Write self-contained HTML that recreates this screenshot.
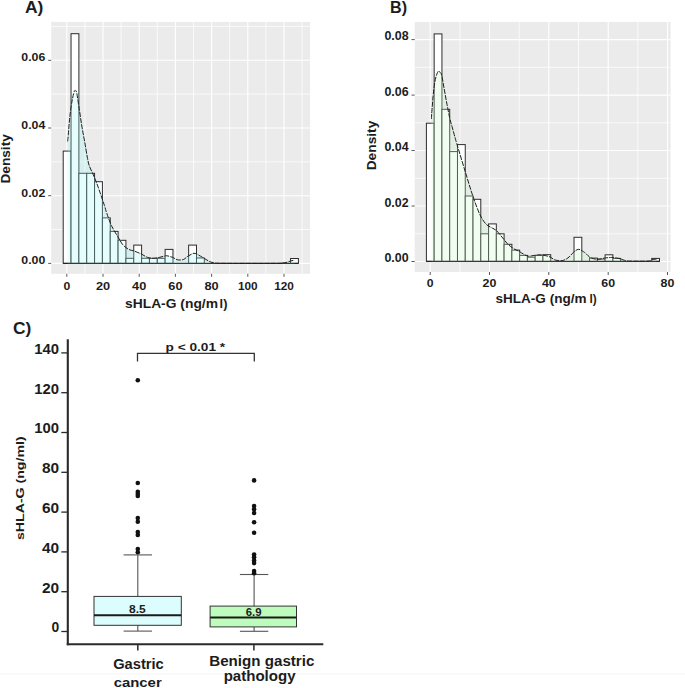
<!DOCTYPE html><html><head><meta charset="utf-8"><style>html,body{margin:0;padding:0;background:#fff;}svg{display:block;}text{font-family:"Liberation Sans",sans-serif;}</style></head><body>
<svg width="685" height="688" viewBox="0 0 685 688">
<rect width="685" height="688" fill="#fff"/>
<rect x="0" y="673.5" width="685" height="1" fill="#f5f5f5"/>
<rect x="51.2" y="21.9" width="258.90000000000003" height="251.9" fill="#ebebeb"/>
<line x1="51.2" x2="310.1" y1="229.5" y2="229.5" stroke="#ffffff" stroke-width="0.75"/>
<line x1="51.2" x2="310.1" y1="161.8" y2="161.8" stroke="#ffffff" stroke-width="0.75"/>
<line x1="51.2" x2="310.1" y1="94.1" y2="94.1" stroke="#ffffff" stroke-width="0.75"/>
<line x1="51.2" x2="310.1" y1="26.4" y2="26.4" stroke="#ffffff" stroke-width="0.75"/>
<line x1="84.9" x2="84.9" y1="21.9" y2="273.8" stroke="#ffffff" stroke-width="0.75"/>
<line x1="121.1" x2="121.1" y1="21.9" y2="273.8" stroke="#ffffff" stroke-width="0.75"/>
<line x1="157.3" x2="157.3" y1="21.9" y2="273.8" stroke="#ffffff" stroke-width="0.75"/>
<line x1="193.5" x2="193.5" y1="21.9" y2="273.8" stroke="#ffffff" stroke-width="0.75"/>
<line x1="229.7" x2="229.7" y1="21.9" y2="273.8" stroke="#ffffff" stroke-width="0.75"/>
<line x1="265.9" x2="265.9" y1="21.9" y2="273.8" stroke="#ffffff" stroke-width="0.75"/>
<line x1="302.1" x2="302.1" y1="21.9" y2="273.8" stroke="#ffffff" stroke-width="0.75"/>
<line x1="51.2" x2="310.1" y1="263.4" y2="263.4" stroke="#ffffff" stroke-width="1.1"/>
<line x1="51.2" x2="310.1" y1="195.7" y2="195.7" stroke="#ffffff" stroke-width="1.1"/>
<line x1="51.2" x2="310.1" y1="128.0" y2="128.0" stroke="#ffffff" stroke-width="1.1"/>
<line x1="51.2" x2="310.1" y1="60.3" y2="60.3" stroke="#ffffff" stroke-width="1.1"/>
<line x1="66.8" x2="66.8" y1="21.9" y2="273.8" stroke="#ffffff" stroke-width="1.1"/>
<line x1="103.0" x2="103.0" y1="21.9" y2="273.8" stroke="#ffffff" stroke-width="1.1"/>
<line x1="139.2" x2="139.2" y1="21.9" y2="273.8" stroke="#ffffff" stroke-width="1.1"/>
<line x1="175.4" x2="175.4" y1="21.9" y2="273.8" stroke="#ffffff" stroke-width="1.1"/>
<line x1="211.6" x2="211.6" y1="21.9" y2="273.8" stroke="#ffffff" stroke-width="1.1"/>
<line x1="247.8" x2="247.8" y1="21.9" y2="273.8" stroke="#ffffff" stroke-width="1.1"/>
<line x1="284.0" x2="284.0" y1="21.9" y2="273.8" stroke="#ffffff" stroke-width="1.1"/>
<rect x="63.20" y="151.10" width="7.84" height="112.30" fill="#ffffff" stroke="#2c2c2c" stroke-width="1.0"/>
<rect x="71.04" y="33.70" width="7.84" height="229.70" fill="#ffffff" stroke="#2c2c2c" stroke-width="1.0"/>
<rect x="78.88" y="173.30" width="7.84" height="90.10" fill="#ffffff" stroke="#2c2c2c" stroke-width="1.0"/>
<rect x="86.72" y="173.30" width="7.84" height="90.10" fill="#ffffff" stroke="#2c2c2c" stroke-width="1.0"/>
<rect x="94.56" y="181.70" width="7.84" height="81.70" fill="#ffffff" stroke="#2c2c2c" stroke-width="1.0"/>
<rect x="102.40" y="217.90" width="7.84" height="45.50" fill="#ffffff" stroke="#2c2c2c" stroke-width="1.0"/>
<rect x="110.24" y="231.40" width="7.84" height="32.00" fill="#ffffff" stroke="#2c2c2c" stroke-width="1.0"/>
<rect x="118.08" y="240.30" width="7.84" height="23.10" fill="#ffffff" stroke="#2c2c2c" stroke-width="1.0"/>
<rect x="125.92" y="258.30" width="7.84" height="5.10" fill="#ffffff" stroke="#2c2c2c" stroke-width="1.0"/>
<rect x="133.76" y="245.10" width="7.84" height="18.30" fill="#ffffff" stroke="#2c2c2c" stroke-width="1.0"/>
<rect x="141.60" y="258.30" width="7.84" height="5.10" fill="#ffffff" stroke="#2c2c2c" stroke-width="1.0"/>
<rect x="149.44" y="258.30" width="7.84" height="5.10" fill="#ffffff" stroke="#2c2c2c" stroke-width="1.0"/>
<rect x="157.28" y="258.30" width="7.84" height="5.10" fill="#ffffff" stroke="#2c2c2c" stroke-width="1.0"/>
<rect x="165.12" y="249.40" width="7.84" height="14.00" fill="#ffffff" stroke="#2c2c2c" stroke-width="1.0"/>
<rect x="172.96" y="263.40" width="7.84" height="0.00" fill="#ffffff" stroke="#2c2c2c" stroke-width="1.0"/>
<rect x="180.80" y="263.40" width="7.84" height="0.00" fill="#ffffff" stroke="#2c2c2c" stroke-width="1.0"/>
<rect x="188.64" y="245.10" width="7.84" height="18.30" fill="#ffffff" stroke="#2c2c2c" stroke-width="1.0"/>
<rect x="196.48" y="258.00" width="7.84" height="5.40" fill="#ffffff" stroke="#2c2c2c" stroke-width="1.0"/>
<rect x="204.32" y="263.40" width="7.84" height="0.00" fill="#ffffff" stroke="#2c2c2c" stroke-width="1.0"/>
<rect x="212.16" y="263.40" width="7.84" height="0.00" fill="#ffffff" stroke="#2c2c2c" stroke-width="1.0"/>
<rect x="220.00" y="263.40" width="7.84" height="0.00" fill="#ffffff" stroke="#2c2c2c" stroke-width="1.0"/>
<rect x="227.84" y="263.40" width="7.84" height="0.00" fill="#ffffff" stroke="#2c2c2c" stroke-width="1.0"/>
<rect x="235.68" y="263.40" width="7.84" height="0.00" fill="#ffffff" stroke="#2c2c2c" stroke-width="1.0"/>
<rect x="243.52" y="263.40" width="7.84" height="0.00" fill="#ffffff" stroke="#2c2c2c" stroke-width="1.0"/>
<rect x="251.36" y="263.40" width="7.84" height="0.00" fill="#ffffff" stroke="#2c2c2c" stroke-width="1.0"/>
<rect x="259.20" y="263.40" width="7.84" height="0.00" fill="#ffffff" stroke="#2c2c2c" stroke-width="1.0"/>
<rect x="267.04" y="263.40" width="7.84" height="0.00" fill="#ffffff" stroke="#2c2c2c" stroke-width="1.0"/>
<rect x="274.88" y="263.40" width="7.84" height="0.00" fill="#ffffff" stroke="#2c2c2c" stroke-width="1.0"/>
<rect x="282.72" y="263.40" width="7.84" height="0.00" fill="#ffffff" stroke="#2c2c2c" stroke-width="1.0"/>
<rect x="290.56" y="258.50" width="7.84" height="4.90" fill="#ffffff" stroke="#2c2c2c" stroke-width="1.0"/>
<line x1="63.20" x2="298.40" y1="263.40" y2="263.40" stroke="#222" stroke-width="1.4"/>
<path d="M67.6,141.4 C67.7,140.3 68.0,138.6 68.3,134.9 C68.6,131.2 69.0,124.4 69.6,119.2 C70.1,114.0 70.9,107.8 71.6,103.5 C72.3,99.2 73.1,95.7 73.6,93.5 C74.1,91.3 74.4,90.9 74.8,90.5 C75.2,90.1 75.6,90.8 75.9,91.2 C76.2,91.6 76.2,89.9 76.8,93.1 C77.4,96.2 78.5,104.4 79.4,110.1 C80.3,115.8 81.1,121.9 82.0,127.1 C82.9,132.3 83.7,136.4 84.6,141.4 C85.5,146.4 86.5,153.1 87.3,157.1 C88.1,161.1 88.1,162.3 89.2,165.5 C90.3,168.7 92.5,172.9 93.9,176.2 C95.3,179.4 96.2,181.9 97.4,185.0 C98.6,188.1 99.7,191.6 100.9,195.0 C102.1,198.4 103.4,202.4 104.4,205.4 C105.4,208.4 105.5,209.7 106.7,213.0 C107.9,216.3 109.6,221.6 111.4,225.5 C113.2,229.4 115.9,233.5 117.8,236.7 C119.7,239.9 121.2,242.8 123.0,244.9 C124.8,247.0 127.1,248.5 128.9,249.5 C130.8,250.5 132.0,250.2 134.1,251.0 C136.2,251.8 139.4,253.1 141.7,254.2 C143.9,255.3 145.6,256.7 147.6,257.4 C149.6,258.1 151.5,258.3 153.4,258.3 C155.3,258.3 157.3,257.8 159.2,257.4 C161.1,257.0 163.7,256.3 165.0,256.0 C166.3,255.7 165.7,255.6 167.0,255.8 C168.3,256.0 170.8,256.7 172.6,257.4 C174.3,258.1 175.7,259.4 177.5,259.8 C179.3,260.2 181.7,260.1 183.4,259.5 C185.2,258.9 186.2,257.2 188.0,256.2 C189.8,255.2 192.2,253.5 193.9,253.3 C195.7,253.1 196.8,254.1 198.5,255.0 C200.2,255.9 202.5,257.4 204.4,258.5 C206.3,259.6 208.4,261.1 210.2,261.8 C211.9,262.5 212.9,262.6 214.9,262.9 C216.9,263.1 211.8,263.2 222.0,263.3 C232.2,263.4 266.0,263.4 276.0,263.3 C286.0,263.2 280.2,263.2 282.0,263.0 C283.8,262.8 285.6,262.6 287.0,262.3 C288.4,262.0 289.2,261.4 290.5,261.0 C291.8,260.6 293.8,260.3 294.5,260.2 L294.5,263.4 L67.6,263.4 Z" fill="#9bf7f7" fill-opacity="0.25" stroke="none"/>
<path d="M67.6,141.4 C67.7,140.3 68.0,138.6 68.3,134.9 C68.6,131.2 69.0,124.4 69.6,119.2 C70.1,114.0 70.9,107.8 71.6,103.5 C72.3,99.2 73.1,95.7 73.6,93.5 C74.1,91.3 74.4,90.9 74.8,90.5 C75.2,90.1 75.6,90.8 75.9,91.2 C76.2,91.6 76.2,89.9 76.8,93.1 C77.4,96.2 78.5,104.4 79.4,110.1 C80.3,115.8 81.1,121.9 82.0,127.1 C82.9,132.3 83.7,136.4 84.6,141.4 C85.5,146.4 86.5,153.1 87.3,157.1 C88.1,161.1 88.1,162.3 89.2,165.5 C90.3,168.7 92.5,172.9 93.9,176.2 C95.3,179.4 96.2,181.9 97.4,185.0 C98.6,188.1 99.7,191.6 100.9,195.0 C102.1,198.4 103.4,202.4 104.4,205.4 C105.4,208.4 105.5,209.7 106.7,213.0 C107.9,216.3 109.6,221.6 111.4,225.5 C113.2,229.4 115.9,233.5 117.8,236.7 C119.7,239.9 121.2,242.8 123.0,244.9 C124.8,247.0 127.1,248.5 128.9,249.5 C130.8,250.5 132.0,250.2 134.1,251.0 C136.2,251.8 139.4,253.1 141.7,254.2 C143.9,255.3 145.6,256.7 147.6,257.4 C149.6,258.1 151.5,258.3 153.4,258.3 C155.3,258.3 157.3,257.8 159.2,257.4 C161.1,257.0 163.7,256.3 165.0,256.0 C166.3,255.7 165.7,255.6 167.0,255.8 C168.3,256.0 170.8,256.7 172.6,257.4 C174.3,258.1 175.7,259.4 177.5,259.8 C179.3,260.2 181.7,260.1 183.4,259.5 C185.2,258.9 186.2,257.2 188.0,256.2 C189.8,255.2 192.2,253.5 193.9,253.3 C195.7,253.1 196.8,254.1 198.5,255.0 C200.2,255.9 202.5,257.4 204.4,258.5 C206.3,259.6 208.4,261.1 210.2,261.8 C211.9,262.5 212.9,262.6 214.9,262.9 C216.9,263.1 211.8,263.2 222.0,263.3 C232.2,263.4 266.0,263.4 276.0,263.3 C286.0,263.2 280.2,263.2 282.0,263.0 C283.8,262.8 285.6,262.6 287.0,262.3 C288.4,262.0 289.2,261.4 290.5,261.0 C291.8,260.6 293.8,260.3 294.5,260.2" fill="none" stroke="#1e1e1e" stroke-width="1.0" stroke-dasharray="5 1.2"/>
<line x1="48.2" x2="51.2" y1="263.4" y2="263.4" stroke="#444" stroke-width="0.9"/>
<line x1="48.2" x2="51.2" y1="195.7" y2="195.7" stroke="#444" stroke-width="0.9"/>
<line x1="48.2" x2="51.2" y1="128.0" y2="128.0" stroke="#444" stroke-width="0.9"/>
<line x1="48.2" x2="51.2" y1="60.3" y2="60.3" stroke="#444" stroke-width="0.9"/>
<line x1="66.8" x2="66.8" y1="273.8" y2="276.8" stroke="#444" stroke-width="0.9"/>
<line x1="103.0" x2="103.0" y1="273.8" y2="276.8" stroke="#444" stroke-width="0.9"/>
<line x1="139.2" x2="139.2" y1="273.8" y2="276.8" stroke="#444" stroke-width="0.9"/>
<line x1="175.4" x2="175.4" y1="273.8" y2="276.8" stroke="#444" stroke-width="0.9"/>
<line x1="211.6" x2="211.6" y1="273.8" y2="276.8" stroke="#444" stroke-width="0.9"/>
<line x1="247.8" x2="247.8" y1="273.8" y2="276.8" stroke="#444" stroke-width="0.9"/>
<line x1="284.0" x2="284.0" y1="273.8" y2="276.8" stroke="#444" stroke-width="0.9"/>
<text x="45.3" y="264.2" font-size="11.63" font-weight="bold" text-anchor="end" fill="#1c1c1c" textLength="24.0" lengthAdjust="spacingAndGlyphs">0.00</text>
<text x="45.3" y="196.5" font-size="11.63" font-weight="bold" text-anchor="end" fill="#1c1c1c" textLength="24.0" lengthAdjust="spacingAndGlyphs">0.02</text>
<text x="45.3" y="128.8" font-size="11.63" font-weight="bold" text-anchor="end" fill="#1c1c1c" textLength="24.0" lengthAdjust="spacingAndGlyphs">0.04</text>
<text x="45.3" y="61.1" font-size="11.63" font-weight="bold" text-anchor="end" fill="#1c1c1c" textLength="24.0" lengthAdjust="spacingAndGlyphs">0.06</text>
<text x="66.8" y="289.9" font-size="11.63" font-weight="bold" text-anchor="middle" fill="#1c1c1c" textLength="6.8" lengthAdjust="spacingAndGlyphs">0</text>
<text x="103.0" y="289.9" font-size="11.63" font-weight="bold" text-anchor="middle" fill="#1c1c1c" textLength="14.2" lengthAdjust="spacingAndGlyphs">20</text>
<text x="139.2" y="289.9" font-size="11.63" font-weight="bold" text-anchor="middle" fill="#1c1c1c" textLength="14.2" lengthAdjust="spacingAndGlyphs">40</text>
<text x="175.4" y="289.9" font-size="11.63" font-weight="bold" text-anchor="middle" fill="#1c1c1c" textLength="14.2" lengthAdjust="spacingAndGlyphs">60</text>
<text x="211.6" y="289.9" font-size="11.63" font-weight="bold" text-anchor="middle" fill="#1c1c1c" textLength="14.2" lengthAdjust="spacingAndGlyphs">80</text>
<text x="247.8" y="289.9" font-size="11.63" font-weight="bold" text-anchor="middle" fill="#1c1c1c" textLength="19.7" lengthAdjust="spacingAndGlyphs">100</text>
<text x="284.0" y="289.9" font-size="11.63" font-weight="bold" text-anchor="middle" fill="#1c1c1c" textLength="19.7" lengthAdjust="spacingAndGlyphs">120</text>
<text x="125.0" y="308.0" font-size="12.35" font-weight="bold" text-anchor="start" fill="#1c1c1c" textLength="93.0" lengthAdjust="spacingAndGlyphs">sHLA-G (ng/m</text>
<text x="219.6" y="308.0" font-size="12.35" font-weight="bold" text-anchor="start" fill="#1c1c1c" textLength="7.8" lengthAdjust="spacingAndGlyphs">l)</text>
<text x="9.7" y="158.9" font-size="11.92" font-weight="bold" text-anchor="middle" fill="#1c1c1c" textLength="49.4" lengthAdjust="spacingAndGlyphs" transform="rotate(-90 9.7 158.9)">Density</text>
<text x="25.0" y="12.9" font-size="16.42" font-weight="bold" text-anchor="start" fill="#1c1c1c" textLength="18.4" lengthAdjust="spacingAndGlyphs">A)</text>
<rect x="414.7" y="21.9" width="255.90000000000003" height="250.1" fill="#ebebeb"/>
<line x1="414.7" x2="670.6" y1="233.8" y2="233.8" stroke="#ffffff" stroke-width="0.75"/>
<line x1="414.7" x2="670.6" y1="178.3" y2="178.3" stroke="#ffffff" stroke-width="0.75"/>
<line x1="414.7" x2="670.6" y1="122.8" y2="122.8" stroke="#ffffff" stroke-width="0.75"/>
<line x1="414.7" x2="670.6" y1="67.3" y2="67.3" stroke="#ffffff" stroke-width="0.75"/>
<line x1="459.9" x2="459.9" y1="21.9" y2="272.0" stroke="#ffffff" stroke-width="0.75"/>
<line x1="519.2" x2="519.2" y1="21.9" y2="272.0" stroke="#ffffff" stroke-width="0.75"/>
<line x1="578.5" x2="578.5" y1="21.9" y2="272.0" stroke="#ffffff" stroke-width="0.75"/>
<line x1="637.8" x2="637.8" y1="21.9" y2="272.0" stroke="#ffffff" stroke-width="0.75"/>
<line x1="414.7" x2="670.6" y1="261.5" y2="261.5" stroke="#ffffff" stroke-width="1.1"/>
<line x1="414.7" x2="670.6" y1="206.0" y2="206.0" stroke="#ffffff" stroke-width="1.1"/>
<line x1="414.7" x2="670.6" y1="150.5" y2="150.5" stroke="#ffffff" stroke-width="1.1"/>
<line x1="414.7" x2="670.6" y1="95.1" y2="95.1" stroke="#ffffff" stroke-width="1.1"/>
<line x1="414.7" x2="670.6" y1="39.6" y2="39.6" stroke="#ffffff" stroke-width="1.1"/>
<line x1="430.2" x2="430.2" y1="21.9" y2="272.0" stroke="#ffffff" stroke-width="1.1"/>
<line x1="489.5" x2="489.5" y1="21.9" y2="272.0" stroke="#ffffff" stroke-width="1.1"/>
<line x1="548.8" x2="548.8" y1="21.9" y2="272.0" stroke="#ffffff" stroke-width="1.1"/>
<line x1="608.2" x2="608.2" y1="21.9" y2="272.0" stroke="#ffffff" stroke-width="1.1"/>
<line x1="667.5" x2="667.5" y1="21.9" y2="272.0" stroke="#ffffff" stroke-width="1.1"/>
<rect x="426.40" y="123.20" width="7.77" height="138.20" fill="#ffffff" stroke="#2c2c2c" stroke-width="1.0"/>
<rect x="434.17" y="33.90" width="7.77" height="227.50" fill="#ffffff" stroke="#2c2c2c" stroke-width="1.0"/>
<rect x="441.94" y="109.30" width="7.77" height="152.10" fill="#ffffff" stroke="#2c2c2c" stroke-width="1.0"/>
<rect x="449.71" y="151.60" width="7.77" height="109.80" fill="#ffffff" stroke="#2c2c2c" stroke-width="1.0"/>
<rect x="457.48" y="144.60" width="7.77" height="116.80" fill="#ffffff" stroke="#2c2c2c" stroke-width="1.0"/>
<rect x="465.25" y="196.00" width="7.77" height="65.40" fill="#ffffff" stroke="#2c2c2c" stroke-width="1.0"/>
<rect x="473.02" y="199.30" width="7.77" height="62.10" fill="#ffffff" stroke="#2c2c2c" stroke-width="1.0"/>
<rect x="480.79" y="233.80" width="7.77" height="27.60" fill="#ffffff" stroke="#2c2c2c" stroke-width="1.0"/>
<rect x="488.56" y="223.90" width="7.77" height="37.50" fill="#ffffff" stroke="#2c2c2c" stroke-width="1.0"/>
<rect x="496.33" y="233.80" width="7.77" height="27.60" fill="#ffffff" stroke="#2c2c2c" stroke-width="1.0"/>
<rect x="504.10" y="244.30" width="7.77" height="17.10" fill="#ffffff" stroke="#2c2c2c" stroke-width="1.0"/>
<rect x="511.87" y="250.10" width="7.77" height="11.30" fill="#ffffff" stroke="#2c2c2c" stroke-width="1.0"/>
<rect x="519.64" y="255.40" width="7.77" height="6.00" fill="#ffffff" stroke="#2c2c2c" stroke-width="1.0"/>
<rect x="527.41" y="257.20" width="7.77" height="4.20" fill="#ffffff" stroke="#2c2c2c" stroke-width="1.0"/>
<rect x="535.18" y="255.40" width="7.77" height="6.00" fill="#ffffff" stroke="#2c2c2c" stroke-width="1.0"/>
<rect x="542.95" y="254.70" width="7.77" height="6.70" fill="#ffffff" stroke="#2c2c2c" stroke-width="1.0"/>
<rect x="550.72" y="261.40" width="7.77" height="0.00" fill="#ffffff" stroke="#2c2c2c" stroke-width="1.0"/>
<rect x="558.49" y="261.40" width="7.77" height="0.00" fill="#ffffff" stroke="#2c2c2c" stroke-width="1.0"/>
<rect x="566.26" y="261.40" width="7.77" height="0.00" fill="#ffffff" stroke="#2c2c2c" stroke-width="1.0"/>
<rect x="574.03" y="237.30" width="7.77" height="24.10" fill="#ffffff" stroke="#2c2c2c" stroke-width="1.0"/>
<rect x="581.80" y="261.40" width="7.77" height="0.00" fill="#ffffff" stroke="#2c2c2c" stroke-width="1.0"/>
<rect x="589.57" y="258.10" width="7.77" height="3.30" fill="#ffffff" stroke="#2c2c2c" stroke-width="1.0"/>
<rect x="597.34" y="259.10" width="7.77" height="2.30" fill="#ffffff" stroke="#2c2c2c" stroke-width="1.0"/>
<rect x="605.11" y="254.80" width="7.77" height="6.60" fill="#ffffff" stroke="#2c2c2c" stroke-width="1.0"/>
<rect x="612.88" y="258.40" width="7.77" height="3.00" fill="#ffffff" stroke="#2c2c2c" stroke-width="1.0"/>
<rect x="620.65" y="261.40" width="7.77" height="0.00" fill="#ffffff" stroke="#2c2c2c" stroke-width="1.0"/>
<rect x="628.42" y="261.40" width="7.77" height="0.00" fill="#ffffff" stroke="#2c2c2c" stroke-width="1.0"/>
<rect x="636.19" y="261.40" width="7.77" height="0.00" fill="#ffffff" stroke="#2c2c2c" stroke-width="1.0"/>
<rect x="643.96" y="261.40" width="7.77" height="0.00" fill="#ffffff" stroke="#2c2c2c" stroke-width="1.0"/>
<rect x="651.73" y="258.40" width="7.77" height="3.00" fill="#ffffff" stroke="#2c2c2c" stroke-width="1.0"/>
<line x1="426.40" x2="659.50" y1="261.40" y2="261.40" stroke="#222" stroke-width="1.4"/>
<path d="M431.4,119.0 C431.4,118.3 431.5,116.5 431.6,115.0 C431.7,113.5 431.8,111.9 432.0,109.7 C432.2,107.5 432.4,104.6 432.6,102.0 C432.8,99.4 433.0,96.6 433.3,94.0 C433.6,91.4 433.9,88.9 434.2,86.5 C434.5,84.1 434.9,81.6 435.3,79.6 C435.7,77.5 436.3,75.6 436.8,74.2 C437.3,72.8 437.9,71.4 438.5,71.1 C439.1,70.8 439.6,71.7 440.2,72.5 C440.8,73.3 441.1,72.8 441.8,75.7 C442.5,78.6 443.5,85.3 444.4,90.1 C445.3,94.9 446.1,99.8 447.0,104.4 C447.9,109.0 448.8,113.8 449.6,117.5 C450.4,121.2 451.2,123.7 452.0,126.5 C452.8,129.3 453.4,131.6 454.2,134.5 C455.0,137.4 455.0,137.6 456.8,143.7 C458.6,149.8 462.4,162.3 465.0,170.9 C467.6,179.5 470.6,189.3 472.6,195.4 C474.6,201.5 475.6,203.9 477.0,207.5 C478.4,211.1 479.5,214.2 481.1,217.0 C482.7,219.8 484.5,222.7 486.4,224.5 C488.2,226.3 490.4,226.9 492.2,228.0 C493.9,229.1 495.1,229.3 496.9,231.0 C498.6,232.7 500.9,235.8 502.7,237.9 C504.4,240.0 505.6,241.9 507.4,243.7 C509.1,245.4 511.3,247.1 513.2,248.4 C515.1,249.7 517.2,250.3 519.0,251.3 C520.8,252.3 522.1,253.4 523.7,254.2 C525.3,255.0 526.8,256.0 528.4,256.2 C530.0,256.4 531.2,255.8 533.1,255.6 C535.0,255.4 537.7,254.7 540.0,254.8 C542.3,254.9 545.3,255.6 547.1,256.0 C548.9,256.4 549.6,256.8 551.0,257.5 C552.4,258.2 553.3,259.5 555.2,260.0 C557.1,260.5 560.1,261.0 562.2,260.6 C564.3,260.2 566.0,259.3 568.0,257.9 C570.0,256.5 572.1,253.4 573.9,252.0 C575.7,250.6 577.0,249.3 578.6,249.3 C580.2,249.3 582.3,251.0 583.6,251.8 C584.9,252.6 585.5,253.2 586.5,254.1 C587.5,255.0 588.7,256.4 589.5,257.1 C590.3,257.8 590.2,257.7 591.4,258.1 C592.6,258.5 595.1,259.3 596.7,259.4 C598.4,259.5 600.0,259.0 601.3,258.8 C602.6,258.6 603.0,258.3 604.3,258.1 C605.6,257.9 608.0,257.7 609.2,257.6 C610.5,257.5 610.9,257.4 611.8,257.4 C612.7,257.4 613.4,257.6 614.5,257.8 C615.6,258.0 617.0,258.0 618.7,258.4 C620.4,258.8 622.8,259.9 624.5,260.3 C626.2,260.8 625.3,261.0 629.2,261.1 C633.1,261.2 644.2,261.3 648.0,261.1 C651.8,260.9 650.6,260.1 652.0,259.8 C653.4,259.5 655.8,259.3 656.5,259.2 L656.5,261.4 L431.4,261.4 Z" fill="#c3f7c3" fill-opacity="0.25" stroke="none"/>
<path d="M431.4,119.0 C431.4,118.3 431.5,116.5 431.6,115.0 C431.7,113.5 431.8,111.9 432.0,109.7 C432.2,107.5 432.4,104.6 432.6,102.0 C432.8,99.4 433.0,96.6 433.3,94.0 C433.6,91.4 433.9,88.9 434.2,86.5 C434.5,84.1 434.9,81.6 435.3,79.6 C435.7,77.5 436.3,75.6 436.8,74.2 C437.3,72.8 437.9,71.4 438.5,71.1 C439.1,70.8 439.6,71.7 440.2,72.5 C440.8,73.3 441.1,72.8 441.8,75.7 C442.5,78.6 443.5,85.3 444.4,90.1 C445.3,94.9 446.1,99.8 447.0,104.4 C447.9,109.0 448.8,113.8 449.6,117.5 C450.4,121.2 451.2,123.7 452.0,126.5 C452.8,129.3 453.4,131.6 454.2,134.5 C455.0,137.4 455.0,137.6 456.8,143.7 C458.6,149.8 462.4,162.3 465.0,170.9 C467.6,179.5 470.6,189.3 472.6,195.4 C474.6,201.5 475.6,203.9 477.0,207.5 C478.4,211.1 479.5,214.2 481.1,217.0 C482.7,219.8 484.5,222.7 486.4,224.5 C488.2,226.3 490.4,226.9 492.2,228.0 C493.9,229.1 495.1,229.3 496.9,231.0 C498.6,232.7 500.9,235.8 502.7,237.9 C504.4,240.0 505.6,241.9 507.4,243.7 C509.1,245.4 511.3,247.1 513.2,248.4 C515.1,249.7 517.2,250.3 519.0,251.3 C520.8,252.3 522.1,253.4 523.7,254.2 C525.3,255.0 526.8,256.0 528.4,256.2 C530.0,256.4 531.2,255.8 533.1,255.6 C535.0,255.4 537.7,254.7 540.0,254.8 C542.3,254.9 545.3,255.6 547.1,256.0 C548.9,256.4 549.6,256.8 551.0,257.5 C552.4,258.2 553.3,259.5 555.2,260.0 C557.1,260.5 560.1,261.0 562.2,260.6 C564.3,260.2 566.0,259.3 568.0,257.9 C570.0,256.5 572.1,253.4 573.9,252.0 C575.7,250.6 577.0,249.3 578.6,249.3 C580.2,249.3 582.3,251.0 583.6,251.8 C584.9,252.6 585.5,253.2 586.5,254.1 C587.5,255.0 588.7,256.4 589.5,257.1 C590.3,257.8 590.2,257.7 591.4,258.1 C592.6,258.5 595.1,259.3 596.7,259.4 C598.4,259.5 600.0,259.0 601.3,258.8 C602.6,258.6 603.0,258.3 604.3,258.1 C605.6,257.9 608.0,257.7 609.2,257.6 C610.5,257.5 610.9,257.4 611.8,257.4 C612.7,257.4 613.4,257.6 614.5,257.8 C615.6,258.0 617.0,258.0 618.7,258.4 C620.4,258.8 622.8,259.9 624.5,260.3 C626.2,260.8 625.3,261.0 629.2,261.1 C633.1,261.2 644.2,261.3 648.0,261.1 C651.8,260.9 650.6,260.1 652.0,259.8 C653.4,259.5 655.8,259.3 656.5,259.2" fill="none" stroke="#1e1e1e" stroke-width="1.0" stroke-dasharray="5 1.2"/>
<line x1="411.5" x2="414.7" y1="261.5" y2="261.5" stroke="#444" stroke-width="0.9"/>
<line x1="411.5" x2="414.7" y1="206.0" y2="206.0" stroke="#444" stroke-width="0.9"/>
<line x1="411.5" x2="414.7" y1="150.5" y2="150.5" stroke="#444" stroke-width="0.9"/>
<line x1="411.5" x2="414.7" y1="95.1" y2="95.1" stroke="#444" stroke-width="0.9"/>
<line x1="411.5" x2="414.7" y1="39.6" y2="39.6" stroke="#444" stroke-width="0.9"/>
<line x1="430.2" x2="430.2" y1="272.0" y2="275.0" stroke="#444" stroke-width="0.9"/>
<line x1="489.5" x2="489.5" y1="272.0" y2="275.0" stroke="#444" stroke-width="0.9"/>
<line x1="548.8" x2="548.8" y1="272.0" y2="275.0" stroke="#444" stroke-width="0.9"/>
<line x1="608.2" x2="608.2" y1="272.0" y2="275.0" stroke="#444" stroke-width="0.9"/>
<line x1="667.5" x2="667.5" y1="272.0" y2="275.0" stroke="#444" stroke-width="0.9"/>
<text x="408.6" y="262.0" font-size="11.92" font-weight="bold" text-anchor="end" fill="#1c1c1c" textLength="24.2" lengthAdjust="spacingAndGlyphs">0.00</text>
<text x="408.6" y="206.5" font-size="11.92" font-weight="bold" text-anchor="end" fill="#1c1c1c" textLength="24.2" lengthAdjust="spacingAndGlyphs">0.02</text>
<text x="408.6" y="151.0" font-size="11.92" font-weight="bold" text-anchor="end" fill="#1c1c1c" textLength="24.2" lengthAdjust="spacingAndGlyphs">0.04</text>
<text x="408.6" y="95.6" font-size="11.92" font-weight="bold" text-anchor="end" fill="#1c1c1c" textLength="24.2" lengthAdjust="spacingAndGlyphs">0.06</text>
<text x="408.6" y="40.1" font-size="11.92" font-weight="bold" text-anchor="end" fill="#1c1c1c" textLength="24.2" lengthAdjust="spacingAndGlyphs">0.08</text>
<text x="430.2" y="286.8" font-size="11.63" font-weight="bold" text-anchor="middle" fill="#1c1c1c" textLength="6.8" lengthAdjust="spacingAndGlyphs">0</text>
<text x="489.5" y="286.8" font-size="11.63" font-weight="bold" text-anchor="middle" fill="#1c1c1c" textLength="13.8" lengthAdjust="spacingAndGlyphs">20</text>
<text x="548.8" y="286.8" font-size="11.63" font-weight="bold" text-anchor="middle" fill="#1c1c1c" textLength="13.8" lengthAdjust="spacingAndGlyphs">40</text>
<text x="608.2" y="286.8" font-size="11.63" font-weight="bold" text-anchor="middle" fill="#1c1c1c" textLength="13.8" lengthAdjust="spacingAndGlyphs">60</text>
<text x="667.5" y="286.8" font-size="11.63" font-weight="bold" text-anchor="middle" fill="#1c1c1c" textLength="13.8" lengthAdjust="spacingAndGlyphs">80</text>
<text x="495.5" y="302.9" font-size="11.92" font-weight="bold" text-anchor="start" fill="#1c1c1c" textLength="91.0" lengthAdjust="spacingAndGlyphs">sHLA-G (ng/m</text>
<text x="589.6" y="302.9" font-size="11.92" font-weight="bold" text-anchor="start" fill="#1c1c1c" textLength="7.2" lengthAdjust="spacingAndGlyphs">l)</text>
<text x="376.0" y="145.5" font-size="11.92" font-weight="bold" text-anchor="middle" fill="#1c1c1c" textLength="49.7" lengthAdjust="spacingAndGlyphs" transform="rotate(-90 376.0 145.5)">Density</text>
<text x="390.0" y="13.0" font-size="16.72" font-weight="bold" text-anchor="start" fill="#1c1c1c" textLength="17.0" lengthAdjust="spacingAndGlyphs">B)</text>
<line x1="67.8" x2="67.8" y1="339.2" y2="645.3" stroke="#2a2a2a" stroke-width="2.1"/>
<line x1="66.8" x2="323.3" y1="644.3" y2="644.3" stroke="#2a2a2a" stroke-width="2.0"/>
<line x1="61.3" x2="67.8" y1="631.5" y2="631.5" stroke="#2a2a2a" stroke-width="1.3"/>
<text x="59.1" y="632.4" font-size="13.81" font-weight="bold" text-anchor="end" fill="#1c1c1c" textLength="7.7" lengthAdjust="spacingAndGlyphs">0</text>
<line x1="61.3" x2="67.8" y1="591.7" y2="591.7" stroke="#2a2a2a" stroke-width="1.3"/>
<text x="59.1" y="592.6" font-size="13.81" font-weight="bold" text-anchor="end" fill="#1c1c1c" textLength="17.2" lengthAdjust="spacingAndGlyphs">20</text>
<line x1="61.3" x2="67.8" y1="551.9" y2="551.9" stroke="#2a2a2a" stroke-width="1.3"/>
<text x="59.1" y="552.8" font-size="13.81" font-weight="bold" text-anchor="end" fill="#1c1c1c" textLength="17.2" lengthAdjust="spacingAndGlyphs">40</text>
<line x1="61.3" x2="67.8" y1="512.1" y2="512.1" stroke="#2a2a2a" stroke-width="1.3"/>
<text x="59.1" y="513.0" font-size="13.81" font-weight="bold" text-anchor="end" fill="#1c1c1c" textLength="17.2" lengthAdjust="spacingAndGlyphs">60</text>
<line x1="61.3" x2="67.8" y1="472.3" y2="472.3" stroke="#2a2a2a" stroke-width="1.3"/>
<text x="59.1" y="473.2" font-size="13.81" font-weight="bold" text-anchor="end" fill="#1c1c1c" textLength="17.2" lengthAdjust="spacingAndGlyphs">80</text>
<line x1="61.3" x2="67.8" y1="432.5" y2="432.5" stroke="#2a2a2a" stroke-width="1.3"/>
<text x="59.1" y="433.4" font-size="13.81" font-weight="bold" text-anchor="end" fill="#1c1c1c" textLength="24.8" lengthAdjust="spacingAndGlyphs">100</text>
<line x1="61.3" x2="67.8" y1="392.7" y2="392.7" stroke="#2a2a2a" stroke-width="1.3"/>
<text x="59.1" y="393.6" font-size="13.81" font-weight="bold" text-anchor="end" fill="#1c1c1c" textLength="24.8" lengthAdjust="spacingAndGlyphs">120</text>
<line x1="61.3" x2="67.8" y1="352.9" y2="352.9" stroke="#2a2a2a" stroke-width="1.3"/>
<text x="59.1" y="353.8" font-size="13.81" font-weight="bold" text-anchor="end" fill="#1c1c1c" textLength="24.8" lengthAdjust="spacingAndGlyphs">140</text>
<line x1="137.8" x2="137.8" y1="644.3" y2="650.4" stroke="#2a2a2a" stroke-width="1.5"/>
<line x1="253.9" x2="253.9" y1="644.3" y2="650.4" stroke="#2a2a2a" stroke-width="1.5"/>
<line x1="137.8" x2="137.8" y1="554.9" y2="596.4" stroke="#555" stroke-width="1.1"/>
<line x1="137.8" x2="137.8" y1="625.3" y2="631.1" stroke="#555" stroke-width="1.1"/>
<line x1="123.60000000000001" x2="152.0" y1="554.9" y2="554.9" stroke="#555" stroke-width="1.1"/>
<line x1="123.60000000000001" x2="152.0" y1="631.1" y2="631.1" stroke="#555" stroke-width="1.1"/>
<rect x="94.0" y="596.4" width="87.3" height="28.9" fill="#dcfdfd" stroke="#333" stroke-width="1.0"/>
<line x1="94.0" x2="181.3" y1="615.3" y2="615.3" stroke="#1a1a1a" stroke-width="1.9"/>
<circle cx="137.8" cy="380.2" r="2.3" fill="#111"/>
<circle cx="137.8" cy="483.0" r="2.3" fill="#111"/>
<circle cx="137.8" cy="491.7" r="2.3" fill="#111"/>
<circle cx="137.8" cy="494.0" r="2.3" fill="#111"/>
<circle cx="137.8" cy="496.0" r="2.3" fill="#111"/>
<circle cx="137.8" cy="518.1" r="2.3" fill="#111"/>
<circle cx="137.8" cy="521.8" r="2.3" fill="#111"/>
<circle cx="137.8" cy="532.0" r="2.3" fill="#111"/>
<circle cx="137.8" cy="534.9" r="2.3" fill="#111"/>
<circle cx="137.8" cy="549.0" r="2.3" fill="#111"/>
<circle cx="137.8" cy="552.3" r="2.3" fill="#111"/>
<line x1="254.1" x2="254.1" y1="574.5" y2="606.1" stroke="#555" stroke-width="1.1"/>
<line x1="254.1" x2="254.1" y1="626.9" y2="631.3" stroke="#555" stroke-width="1.1"/>
<line x1="239.9" x2="268.3" y1="574.5" y2="574.5" stroke="#555" stroke-width="1.1"/>
<line x1="239.9" x2="268.3" y1="631.3" y2="631.3" stroke="#555" stroke-width="1.1"/>
<rect x="210.1" y="606.1" width="86.4" height="20.8" fill="#bdfcbd" stroke="#333" stroke-width="1.0"/>
<line x1="210.1" x2="296.5" y1="617.5" y2="617.5" stroke="#1a1a1a" stroke-width="1.9"/>
<circle cx="254.1" cy="480.4" r="2.3" fill="#111"/>
<circle cx="254.1" cy="506.0" r="2.3" fill="#111"/>
<circle cx="254.1" cy="509.3" r="2.3" fill="#111"/>
<circle cx="254.1" cy="513.0" r="2.3" fill="#111"/>
<circle cx="254.1" cy="522.3" r="2.3" fill="#111"/>
<circle cx="254.1" cy="532.7" r="2.3" fill="#111"/>
<circle cx="254.1" cy="554.5" r="2.3" fill="#111"/>
<circle cx="254.1" cy="557.2" r="2.3" fill="#111"/>
<circle cx="254.1" cy="560.4" r="2.3" fill="#111"/>
<circle cx="254.1" cy="563.1" r="2.3" fill="#111"/>
<circle cx="254.1" cy="571.1" r="2.3" fill="#111"/>
<circle cx="254.1" cy="573.2" r="2.3" fill="#111"/>
<text x="137.4" y="612.7" font-size="11.48" font-weight="bold" text-anchor="middle" fill="#1c1c1c" textLength="16.7" lengthAdjust="spacingAndGlyphs">8.5</text>
<text x="253.6" y="615.7" font-size="10.90" font-weight="bold" text-anchor="middle" fill="#1c1c1c" textLength="15.8" lengthAdjust="spacingAndGlyphs">6.9</text>
<path d="M137.5,361.6 V353.4 H254.3 V361.6" fill="none" stroke="#333" stroke-width="1.3"/>
<text x="195.3" y="350.6" font-size="10.61" font-weight="bold" text-anchor="middle" fill="#1c1c1c" textLength="59.6" lengthAdjust="spacingAndGlyphs">p &lt; 0.01 *</text>
<text x="13.0" y="334.1" font-size="17.01" font-weight="bold" text-anchor="start" fill="#1c1c1c" textLength="18.4" lengthAdjust="spacingAndGlyphs">C)</text>
<text x="24.0" y="488.2" font-size="10.47" font-weight="bold" text-anchor="middle" fill="#1c1c1c" textLength="103.7" lengthAdjust="spacingAndGlyphs" transform="rotate(-90 24.0 488.2)">sHLA-G (ng/ml)</text>
<text x="138.5" y="669.4" font-size="15.55" font-weight="bold" text-anchor="middle" fill="#1c1c1c" textLength="50.6" lengthAdjust="spacingAndGlyphs">Gastric</text>
<text x="137.7" y="686.7" font-size="11.92" font-weight="bold" text-anchor="middle" fill="#1c1c1c" textLength="48.0" lengthAdjust="spacingAndGlyphs">cancer</text>
<text x="261.8" y="665.8" font-size="14.68" font-weight="bold" text-anchor="middle" fill="#1c1c1c" textLength="105.1" lengthAdjust="spacingAndGlyphs">Benign gastric</text>
<text x="259.6" y="681.3" font-size="14.68" font-weight="bold" text-anchor="middle" fill="#1c1c1c" textLength="71.9" lengthAdjust="spacingAndGlyphs">pathology</text>
</svg></body></html>
